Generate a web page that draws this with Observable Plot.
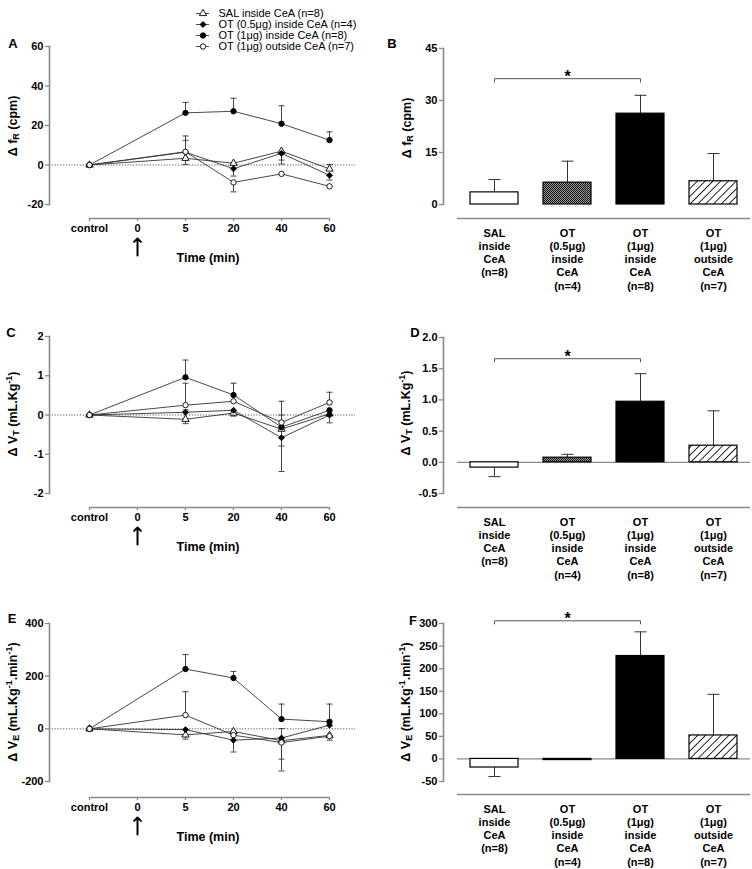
<!DOCTYPE html>
<html><head><meta charset="utf-8">
<script src="https://cdn.jsdelivr.net/npm/d3@7"></script>
<script src="https://cdn.jsdelivr.net/npm/@observablehq/plot@0.6"></script>
<style>
body{margin:0;background:#fff;}
#root{position:relative;width:752px;height:869px;font-family:"Liberation Sans",Arial,sans-serif;color:#000;overflow:hidden;}
.pan{position:absolute;}
.lbl{position:absolute;font-weight:bold;font-size:13px;white-space:nowrap;transform:translate(-50%,-50%);line-height:1;}
.xt{position:absolute;font-weight:bold;font-size:12.5px;white-space:nowrap;transform:translate(-50%,-50%);line-height:1;}
.yt{position:absolute;font-weight:bold;font-size:12.5px;white-space:nowrap;transform:translate(-50%,-50%) rotate(-90deg);line-height:1;}
sub{font-size:0.72em;vertical-align:-0.3em;line-height:0}
sup{font-size:0.72em;vertical-align:0.55em;line-height:0}
</style></head>
<body>
<svg width="0" height="0" style="position:absolute">
<defs>
<pattern id="dense" patternUnits="userSpaceOnUse" width="2" height="2"><rect width="2" height="2" fill="#9a9a9a"/><rect width="1" height="1" fill="#111"/><rect x="1" y="1" width="1" height="1" fill="#111"/></pattern>
<pattern id="hatch" patternUnits="userSpaceOnUse" width="5.5" height="5.5" patternTransform="rotate(45)"><rect width="5.5" height="5.5" fill="#fff"/><line x1="0" y1="0" x2="0" y2="5.5" stroke="#000" stroke-width="1.7"/></pattern>
</defs></svg>
<div id="root"></div>
<script>
// ---------- shared categories ----------
const groups = ["SAL inside CeA (n=8)", "OT (0.5μg) inside CeA (n=4)", "OT (1μg) inside CeA (n=8)", "OT (1μg) outside CeA (n=7)"];
const groupSymbols = ["triangle", "diamond2", "circle", "circle"];
const groupFills = ["white", "black", "black", "white"];
const xCategories = ["control", "0", "5", "20", "40", "60"];
const timePoints = ["control", "5", "20", "40", "60"];
const barCategories = ["SAL\ninside\nCeA\n(n=8)", "OT\n(0.5μg)\ninside\nCeA\n(n=4)", "OT\n(1μg)\ninside\nCeA\n(n=8)", "OT\n(1μg)\noutside\nCeA\n(n=7)"];
const barFills = ["white", "url(#dense)", "black", "url(#hatch)"];

// ---------- Panel A: Δ fR time course ----------
const fR_SAL = [0, 3.4, 0.9, 7.0, -2.0];
const fR_OT05 = [0, 6.5, -1.9, 5.9, -5.2];
const fR_OT1in = [0, 26.4, 27.2, 20.9, 12.6];
const fR_OT1out = [0, 6.7, -8.8, -4.5, -10.8];
const fR_SAL_err = [null, 0.3, null, 2.5, 0.3];
const fR_OT05_err = [null, 12.5, -5.6, 0.5, -7.6];
const fR_OT1in_err = [null, 31.7, 33.8, 30.0, 16.8];
const fR_OT1out_err = [null, 14.7, -13.6, null, null];
const fR_ticks = [-20, 0, 20, 40, 60];

// ---------- Panel C: Δ VT time course ----------
const VT_SAL = [0, -0.11, 0.05, -0.36, 0.03];
const VT_OT05 = [0, 0.07, 0.12, -0.58, 0.0];
const VT_OT1in = [0, 0.96, 0.51, -0.31, 0.12];
const VT_OT1out = [0, 0.25, 0.35, -0.19, 0.32];
const VT_SAL_err = [null, -0.22, -0.03, 0.0, -0.2];
const VT_OT05_err = [null, 0.13, null, -1.44, null];
const VT_OT1in_err = [null, 1.40, 0.81, 0.35, null];
const VT_OT1out_err = [null, 0.81, null, -0.79, 0.58];
const VT_ticks = [-2, -1, 0, 1, 2];

// ---------- Panel E: Δ VE time course ----------
const VE_SAL = [0, -23, -10, -45, -25];
const VE_OT05 = [0, -3, -43, -35, 14];
const VE_OT1in = [0, 227, 193, 37, 27];
const VE_OT1out = [0, 52, -24, -52, -28];
const VE_SAL_err = [null, -39, null, -115, null];
const VE_OT05_err = [null, null, -88, 1, null];
const VE_OT1in_err = [null, 282, 218, 94, 94];
const VE_OT1out_err = [null, 141, null, -160, -43];
const VE_ticks = [-200, 0, 200, 400];

// ---------- Bar panels B, D, F ----------
const fR_bar = [3.5, 6.3, 26.2, 6.7];
const fR_bar_err = [7.2, 12.5, 31.5, 14.7];
const fR_bar_ticks = [0, 15, 30, 45];
const VT_bar = [-0.085, 0.074, 0.97, 0.266];
const VT_bar_err = [-0.23, 0.128, 1.42, 0.825];
const VT_bar_ticks = [-0.5, 0, 0.5, 1, 1.5, 2];
const VE_bar = [-19, -2.5, 228, 52];
const VE_bar_err = [-39, null, 281.5, 143];
const VE_bar_ticks = [-50, 0, 50, 100, 150, 200, 250, 300];
const bracketLevels = [36.3, 1.66, 306];
const bracketDrops = [1.0, 0.05, 7];

// ---------- helpers ----------
const AX = "#8a8a8a";
const capSymbol = {draw(ctx, size) { const r = Math.sqrt(size / Math.PI); ctx.moveTo(-r, 0); ctx.lineTo(r, 0); }};
const baseStyle = {fontFamily: '"Liberation Sans", Arial, sans-serif', fontSize: "11px", fontWeight: "bold", color: "black", background: "transparent", overflow: "visible"};
const root = document.getElementById("root");

function place(el, left, top) {
  const d = document.createElement("div");
  d.className = "pan"; d.style.left = left + "px"; d.style.top = top + "px";
  d.appendChild(el); root.appendChild(d);
}
function html(cls, x, y, content) {
  const d = document.createElement("div");
  d.className = cls; d.style.left = x + "px"; d.style.top = y + "px";
  d.innerHTML = content; root.appendChild(d);
}

function buildRows(series, errs) {
  const rows = [];
  series.forEach((s, g) => s.forEach((v, i) => rows.push({group: groups[g], fill: groupFills[g], time: timePoints[i], value: v, err: errs[g][i]})));
  return rows;
}

function linePanel({top, yDomain, yRange, yTicks, axisDy, arrowDy, series, errs}) {
  const W = 380, H = 290;
  const rows = buildRows(series, errs);
  const errRows = rows.filter(d => d.err != null);
  const plot = Plot.plot({
    width: W, height: H,
    marginLeft: 49, marginRight: W - 355, marginTop: yRange[1], marginBottom: H - yRange[0],
    style: baseStyle,
    x: {type: "point", domain: xCategories, range: [62, 355]},
    y: {domain: yDomain, range: yRange},
    symbol: {domain: groups, range: groupSymbols},
    color: {type: "identity"},
    marks: [
      Plot.ruleY([0], {stroke: "#555", strokeDasharray: "1.2,1.6", strokeWidth: 1}),
      Plot.frame({anchor: "left", stroke: AX, strokeWidth: 1.6}),
      Plot.axisY({ticks: yTicks, tickSize: 4, tickPadding: 2, stroke: AX, strokeWidth: 1.3, tickFormat: d => String(d), label: null}),
      Plot.ruleY([yDomain[0]], {x1: () => xCategories[0], x2: () => xCategories[xCategories.length - 1], dy: axisDy, stroke: AX, strokeWidth: 1.6}),
      Plot.axisX({tickSize: 3, tickPadding: 3, dy: axisDy, stroke: AX, strokeWidth: 1.3, label: null}),
      Plot.vector([xCategories[1]], {x: d => d, frameAnchor: "bottom", dy: arrowDy, length: 17, rotate: 0, anchor: "start", stroke: "black", strokeWidth: 2}),
      Plot.ruleX(errRows, {x: "time", y1: "value", y2: "err", stroke: "#333", strokeWidth: 0.9}),
      Plot.dot(errRows, {x: "time", y: "err", symbol: capSymbol, r: 3, fill: "none", stroke: "#333", strokeWidth: 0.9}),
      Plot.line(rows, {x: "time", y: "value", z: "group", stroke: "#333", strokeWidth: 0.9}),
      Plot.dot(rows, {x: "time", y: "value", symbol: "group", fill: "fill", stroke: "black", strokeWidth: 0.9, r: 2.7})
    ]
  });
  place(plot, 0, top);
}

function barPanel({top, yDomain, yRange, yTicks, tickFormat, axisDy, values, errs, bracketLevel, bracketDrop, zeroLine}) {
  const W = 372, H = 290;
  const bars = barCategories.map((c, i) => ({cat: c, value: values[i], err: errs[i], fill: barFills[i]}));
  const errBars = bars.filter(d => d.err != null);
  const bracket = [
    {cat: barCategories[0], y: bracketLevel - bracketDrop},
    {cat: barCategories[0], y: bracketLevel},
    {cat: barCategories[2], y: bracketLevel},
    {cat: barCategories[2], y: bracketLevel - bracketDrop}
  ];
  const plot = Plot.plot({
    width: W, height: H,
    marginLeft: 63, marginRight: 2, marginTop: yRange[1], marginBottom: H - yRange[0],
    style: baseStyle,
    x: {type: "band", domain: barCategories, range: [77, 370], paddingInner: 0.342, paddingOuter: 0.164},
    y: {domain: yDomain, range: yRange},
    color: {type: "identity"},
    marks: [
      Plot.frame({anchor: "left", stroke: AX, strokeWidth: 1.6}),
      Plot.axisY({ticks: yTicks, tickSize: 4, tickPadding: 2, stroke: AX, strokeWidth: 1.3, tickFormat, label: null}),
      Plot.ruleY([yDomain[0]], {dy: axisDy, insetLeft: 14, stroke: AX, strokeWidth: 1.6}),
      zeroLine ? Plot.ruleY([0], {insetLeft: 14, stroke: AX, strokeWidth: 1.3}) : null,
      Plot.axisX({tickSize: 0, tickPadding: 9, dy: axisDy, lineHeight: 1.2, label: null}),
      Plot.ruleX(errBars, {x: "cat", y1: "value", y2: "err", stroke: "#333", strokeWidth: 1}),
      Plot.dot(errBars, {x: "cat", y: "err", symbol: capSymbol, r: 6, fill: "none", stroke: "#333", strokeWidth: 1}),
      Plot.barY(bars, {x: "cat", y: "value", fill: "fill", stroke: "black", strokeWidth: 1.2}),
      Plot.line(bracket, {x: "cat", y: "y", stroke: "#555", strokeWidth: 1}),
      Plot.text(["*"], {x: () => barCategories[1], y: () => bracketLevel, dy: -2, text: d => d, fontSize: 16, fontWeight: "bold"})
    ]
  });
  place(plot, 380, top);
}

// ---------- legend ----------
const legendPlot = Plot.plot({
  width: 380, height: 60, marginLeft: 196, marginRight: 380 - 209, marginTop: 0, marginBottom: 0,
  style: {...baseStyle, fontWeight: "normal"},
  y: {type: "point", domain: groups, range: [6.5, 51.5], axis: null},
  symbol: {domain: groups, range: groupSymbols},
  color: {type: "identity"},
  marks: [
    Plot.ruleY(groups, {y: d => d, stroke: "#333", strokeWidth: 0.9}),
    Plot.dot(groups.map((g, i) => ({group: g, fill: groupFills[i]})), {y: "group", frameAnchor: "middle", symbol: "group", fill: "fill", stroke: "black", strokeWidth: 0.9, r: 2.7}),
    Plot.text(groups, {y: d => d, text: d => d, frameAnchor: "right", dx: 9, textAnchor: "start", fontSize: 11})
  ]
});
place(legendPlot, 0, 0);

// ---------- panels ----------
linePanel({top: 0, yDomain: [-20, 60], yRange: [204, 46], yTicks: fR_ticks, axisDy: 14, arrowDy: 51,
  series: [fR_SAL, fR_OT05, fR_OT1in, fR_OT1out], errs: [fR_SAL_err, fR_OT05_err, fR_OT1in_err, fR_OT1out_err]});
linePanel({top: 290, yDomain: [-2, 2], yRange: [203, 46], yTicks: VT_ticks, axisDy: 14, arrowDy: 51,
  series: [VT_SAL, VT_OT05, VT_OT1in, VT_OT1out], errs: [VT_SAL_err, VT_OT05_err, VT_OT1in_err, VT_OT1out_err]});
linePanel({top: 578, yDomain: [-200, 400], yRange: [203, 45], yTicks: VE_ticks, axisDy: 16, arrowDy: 53,
  series: [VE_SAL, VE_OT05, VE_OT1in, VE_OT1out], errs: [VE_SAL_err, VE_OT05_err, VE_OT1in_err, VE_OT1out_err]});

barPanel({top: 0, yDomain: [0, 45], yRange: [204, 48], yTicks: fR_bar_ticks, tickFormat: d => String(d), axisDy: 14,
  values: fR_bar, errs: fR_bar_err, bracketLevel: bracketLevels[0], bracketDrop: bracketDrops[0], zeroLine: false});
barPanel({top: 290, yDomain: [-0.5, 2], yRange: [203, 47], yTicks: VT_bar_ticks, tickFormat: d => d.toFixed(1), axisDy: 14,
  values: VT_bar, errs: VT_bar_err, bracketLevel: bracketLevels[1], bracketDrop: bracketDrops[1], zeroLine: true});
barPanel({top: 578, yDomain: [-50, 300], yRange: [203, 45], yTicks: VE_bar_ticks, tickFormat: d => String(d), axisDy: 13,
  values: VE_bar, errs: VE_bar_err, bracketLevel: bracketLevels[2], bracketDrop: bracketDrops[2], zeroLine: true});

// ---------- text labels ----------
html("lbl", 13, 43, "A"); html("lbl", 392, 43, "B");
html("lbl", 11, 332, "C"); html("lbl", 415, 332, "D");
html("lbl", 12, 618, "E"); html("lbl", 413, 620, "F");
html("yt", 13, 126, "Δ f<sub>R</sub> (cpm)");
html("yt", 407, 128, "Δ f<sub>R</sub> (cpm)");
html("yt", 13, 414, "Δ V<sub>T</sub> (mL.Kg<sup>-1</sup>)");
html("yt", 406, 413, "Δ V<sub>T</sub> (mL.Kg<sup>-1</sup>)");
html("yt", 13, 702, "Δ V<sub>E</sub> (mL.Kg<sup>-1</sup>.min<sup>-1</sup>)");
html("yt", 406, 702, "Δ V<sub>E</sub> (mL.Kg<sup>-1</sup>.min<sup>-1</sup>)");
html("xt", 208, 258, "Time (min)");
html("xt", 208, 547, "Time (min)");
html("xt", 208, 837, "Time (min)");
</script>
</body></html>
